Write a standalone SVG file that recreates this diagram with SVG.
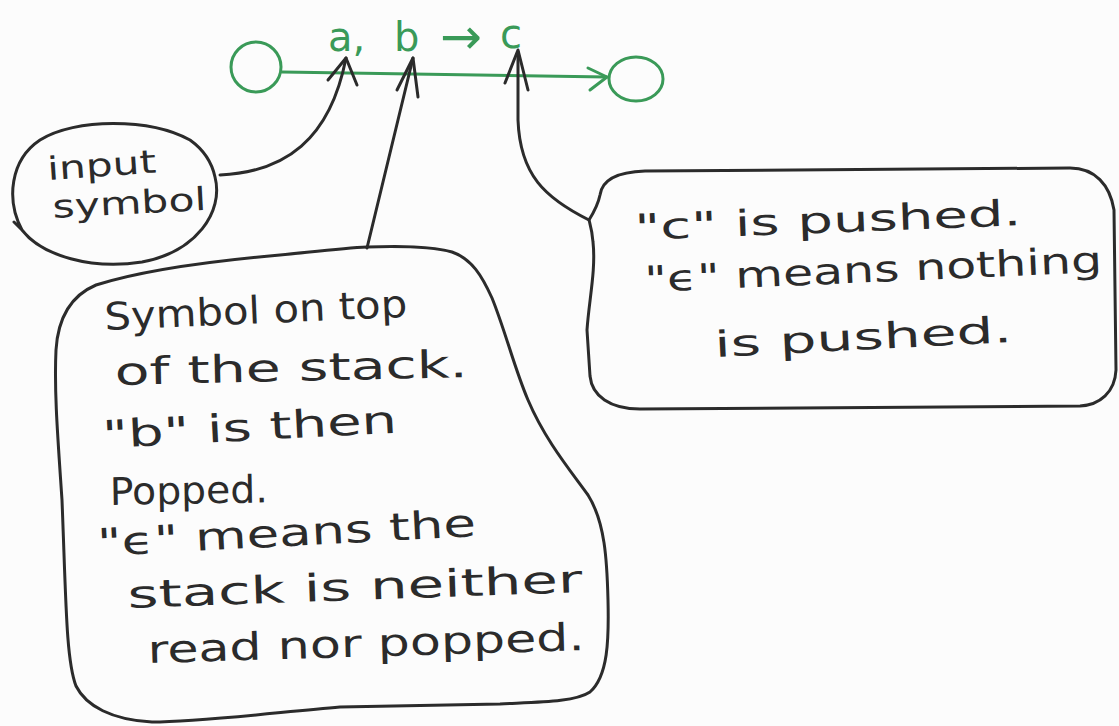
<svg xmlns="http://www.w3.org/2000/svg" width="1119" height="726" viewBox="0 0 1119 726">
  <style>
    .ink { fill: none; stroke: #2b2b2b; stroke-width: 3; stroke-linecap: round; stroke-linejoin: round; }
    .green { fill: none; stroke: #3a9a58; stroke-width: 3; stroke-linecap: round; stroke-linejoin: round; }
    .note { font-family: "DejaVu Sans", "Liberation Sans", sans-serif; fill: #2b2b2b; }
    .lbl { font-family: "DejaVu Sans", "Liberation Sans", sans-serif; fill: #3a9a58; font-size: 40px; }
  </style>
  <rect width="1119" height="726" fill="#fcfcfc"/>

  <!-- PDA transition: two states joined by an edge labelled a, b -> c -->
  <g id="state-from">
    <circle class="green" cx="256" cy="67" r="25"/>
  </g>
  <g id="state-to">
    <ellipse class="green" cx="636" cy="79" rx="27" ry="22"/>
  </g>
  <g id="transition-label">
    <text class="lbl"><tspan x="328" y="51">a,</tspan><tspan x="394" y="51">b</tspan><tspan x="440" y="54" font-size="50">→</tspan><tspan x="500" y="48">c</tspan></text>
  </g>

  <!-- callout: input symbol -->
  <g id="note-input">
    <path class="ink" d="M215,177 C224,212 196,252 142,262 C92,270 42,256 22,230 L14,222 M22,230 C6,200 10,160 40,140 C75,118 150,118 190,140 C204,150 212,163 215,177"/>
    <text class="note" font-size="32" transform="rotate(-4 48 180)"><tspan x="48" y="180" textLength="109" lengthAdjust="spacingAndGlyphs">input</tspan></text>
    <text class="note" font-size="32" transform="rotate(-3 53 218)"><tspan x="53" y="218" textLength="154" lengthAdjust="spacingAndGlyphs">symbol</tspan></text>
  </g>

  <!-- callout: stack symbol read and popped -->
  <g id="note-stack-top">
    <path class="ink" d="M367,247 C400,246 430,246 452,252 C472,259 482,276 492,298 C505,330 515,370 528,400 C545,440 570,470 588,495 C605,522 607,560 608,600 C609,640 608,676 590,692 C575,702 540,702 500,704 L340,707 C280,712 200,722 152,722 C112,720 86,706 76,686 C66,660 66,600 62,500 C58,440 54,392 56,350 C58,318 70,296 96,285 C140,271 200,262 280,255 C320,251 345,248 367,247 Z"/>
    <g class="note" font-size="38">
      <text transform="rotate(-2.5 105 330)"><tspan x="105" y="330" textLength="303" lengthAdjust="spacingAndGlyphs">Symbol on top</tspan></text>
      <text transform="rotate(-1.3 115 385)"><tspan x="115" y="385" textLength="353" lengthAdjust="spacingAndGlyphs">of the stack.</tspan></text>
      <text transform="rotate(-3 103 448)"><tspan x="103" y="448" textLength="295" lengthAdjust="spacingAndGlyphs">"b" is then</tspan></text>
      <text transform="rotate(-1 110 505)"><tspan x="110" y="505" textLength="158" lengthAdjust="spacingAndGlyphs">Popped.</tspan></text>
      <text transform="rotate(-3 98 556)"><tspan x="98" y="556" textLength="379" lengthAdjust="spacingAndGlyphs">"ϵ" means the</tspan></text>
      <text transform="rotate(-2 128 608)"><tspan x="128" y="608" textLength="455" lengthAdjust="spacingAndGlyphs">stack is neither</tspan></text>
      <text transform="rotate(-1.7 148 663)"><tspan x="148" y="663" textLength="437" lengthAdjust="spacingAndGlyphs">read nor popped.</tspan></text>
    </g>
  </g>

  <!-- callout: symbol pushed -->
  <g id="note-push">
    <path class="ink" d="M600,195 C602,180 616,172 645,171 L1070,168 C1095,168 1110,185 1114,210 L1116,370 C1115,392 1100,405 1080,406 L640,409 C610,409 592,396 590,376 L587,330 C589,300 596,270 593,242 C592,230 590,224 589,220 C594,212 598,205 600,195 Z"/>
    <g class="note" font-size="36">
      <text transform="rotate(-2.2 635 240)"><tspan x="635" y="240" textLength="387" lengthAdjust="spacingAndGlyphs">"c" is pushed.</tspan></text>
      <text transform="rotate(-2.5 645 292)"><tspan x="645" y="292" textLength="458" lengthAdjust="spacingAndGlyphs">"ϵ" means nothing</tspan></text>
      <text transform="rotate(-2.9 715 357)"><tspan x="715" y="357" textLength="298" lengthAdjust="spacingAndGlyphs">is pushed.</tspan></text>
    </g>
  </g>

  <!-- connectors -->
  <g id="connectors">
    <!-- transition edge -->
    <path class="green" d="M282,72 L607,77"/>
    <path class="green" d="M588,68 L607,77 L590,90"/>
    <!-- callout pointers -->
    <path class="ink" d="M220,175 C285,172 330,140 346,58"/>
    <path class="ink" d="M328,80 L346,58 L357,85"/>
    <path class="ink" d="M367,248 L413,58"/>
    <path class="ink" d="M397,90 L413,58 L418,97"/>
    <path class="ink" d="M589,220 C545,198 520,175 518,120 L518,52"/>
    <path class="ink" d="M505,83 L518,50 L528,90"/>
  </g>
</svg>
